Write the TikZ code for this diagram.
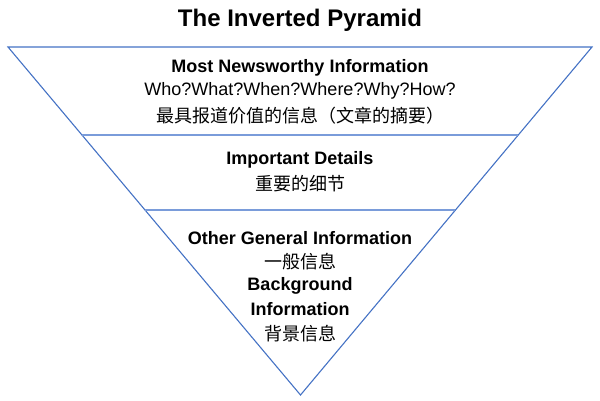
\documentclass[tikz,border=0pt]{standalone}
\usepackage{fontspec}
\usetikzlibrary{calc}
\setmainfont{Liberation Sans}
\newfontfamily\cjk{Noto Sans CJK SC}
\definecolor{edgeblue}{HTML}{4472C4}
\definecolor{lineblue}{HTML}{7A9CDA}
\begin{document}
\begin{tikzpicture}[x=1pt,y=-1pt,
  title/.style={font=\fontsize{24}{28}\selectfont\bfseries, inner sep=0pt},
  head/.style={font=\fontsize{18}{22}\selectfont\bfseries, inner sep=0pt},
  plain/.style={font=\fontsize{18}{22}\selectfont, inner sep=0pt},
  zh/.style={font=\fontsize{18}{22}\selectfont\cjk, inner sep=0pt},
  tri/.style={draw=edgeblue, line width=1.1pt, line join=miter},
  sep/.style={draw=lineblue, line width=1.1pt}]
\useasboundingbox (0,0) rectangle (600,401);
\coordinate (tl) at (8,47);
\coordinate (tr) at (592,47);
\coordinate (ap) at (300.5,395);
\path[tri] (tl) -- (tr) -- (ap) -- cycle;
\coordinate (a1) at ($(tl)!{(135-47)/(395-47)}!(ap)$);
\coordinate (b1) at ($(tr)!{(135-47)/(395-47)}!(ap)$);
\coordinate (a2) at ($(tl)!{(210-47)/(395-47)}!(ap)$);
\coordinate (b2) at ($(tr)!{(210-47)/(395-47)}!(ap)$);
\path[sep] (a1) -- (b1);
\path[sep] (a2) -- (b2);
\node[title] (t) at (300,20) {The Inverted Pyramid};
\node[head] (h1) at (300,68) {Most Newsworthy Information};
\node[plain] (q1) at (300,91) {Who?What?When?Where?Why?How?};
\node[zh] (z1) at (300,116) {最具报道价值的信息（文章的摘要）};
\node[head] (h2) at (300,160) {Important Details};
\node[zh] (z2) at (300,184) {重要的细节};
\node[head] (h3) at (300,238) {Other General Information};
\node[zh] (z3) at (300,262) {一般信息};
\node[head] (h4) at (300,286) {Background};
\node[head] (h5) at (300,309) {Information};
\node[zh] (z5) at (300,334) {背景信息};
\end{tikzpicture}
\end{document}
